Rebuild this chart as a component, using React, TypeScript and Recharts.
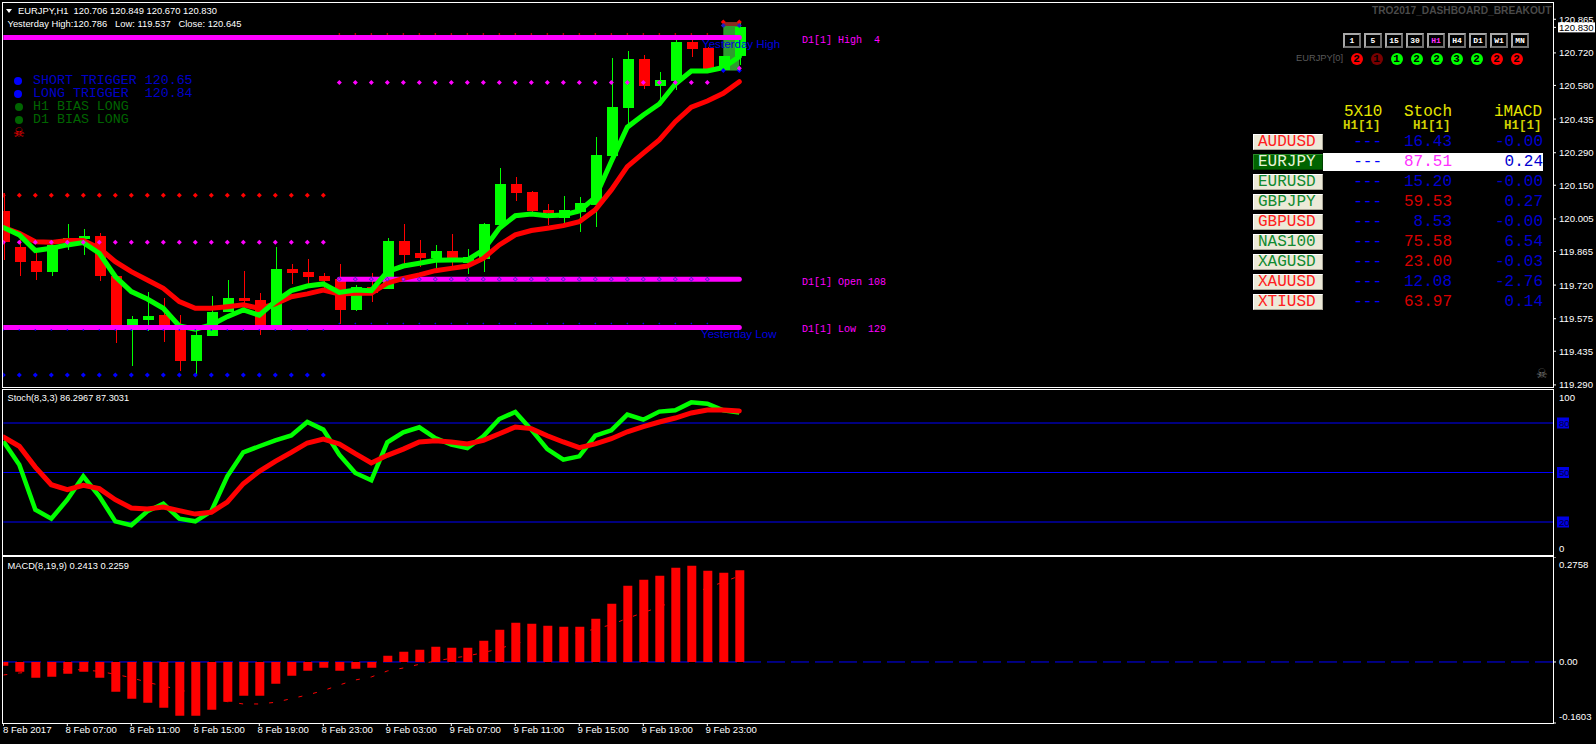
import React from "react";
import {
  ComposedChart,
  Bar,
  Line,
  XAxis,
  YAxis,
  ReferenceLine,
  ReferenceArea,
} from "recharts";

// EURJPY H1 candles
const opens = [120.039,119.884,119.824,119.777,119.914,119.917,119.932,119.759,119.548,119.57,119.591,119.534,119.393,119.501,119.604,119.665,119.656,119.534,119.79,119.777,119.759,119.745,119.613,119.711,119.703,119.91,119.858,119.835,119.867,119.817,119.831,119.979,120.156,120.121,120.044,120.009,120.036,120.065,120.276,120.483,120.694,120.578,120.599,120.767,120.741,120.646,120.706];
const highs = [120.115,119.943,119.864,119.914,119.983,119.962,119.943,119.764,119.587,119.691,119.665,119.591,119.534,119.673,119.742,119.781,119.685,119.886,119.811,119.833,119.771,119.811,119.721,119.771,119.923,119.983,119.914,119.893,119.94,119.876,119.988,120.225,120.186,120.126,120.07,120.104,120.1,120.358,120.698,120.728,120.711,120.638,120.776,120.783,120.744,120.707,120.849];
const lows = [119.828,119.757,119.742,119.759,119.869,119.85,119.739,119.472,119.372,119.524,119.475,119.35,119.337,119.501,119.604,119.613,119.505,119.534,119.725,119.725,119.699,119.553,119.609,119.647,119.703,119.8,119.8,119.792,119.8,119.768,119.777,119.958,120.082,120.029,119.979,119.986,119.949,119.97,120.273,120.414,120.565,120.517,120.56,120.702,120.646,120.644,120.67];
const closes = [119.907,119.82,119.777,119.892,119.923,119.932,119.759,119.534,119.574,119.587,119.527,119.393,119.505,119.604,119.665,119.652,119.534,119.79,119.772,119.755,119.738,119.613,119.712,119.685,119.91,119.85,119.837,119.867,119.838,119.84,119.983,120.156,120.117,120.039,120.031,120.044,120.074,120.281,120.487,120.694,120.578,120.603,120.767,120.737,120.651,120.707,120.83];
const fastEma = [119.968,119.936,119.869,119.879,119.893,119.903,119.857,119.757,119.692,119.66,119.62,119.544,119.53,119.548,119.584,119.613,119.59,119.649,119.696,119.716,119.725,119.688,119.699,119.696,119.778,119.802,119.814,119.827,119.828,119.828,119.871,119.965,120.019,120.026,120.019,120.022,120.039,120.098,120.252,120.4,120.453,120.5,120.586,120.642,120.642,120.657,120.704];
const slowEma = [119.969,119.943,119.907,119.904,119.912,119.912,119.879,119.821,119.778,119.742,119.706,119.649,119.62,119.62,119.627,119.635,119.62,119.639,119.67,119.682,119.699,119.682,119.685,119.685,119.728,119.749,119.764,119.782,119.792,119.802,119.835,119.893,119.936,119.955,119.965,119.976,119.993,120.044,120.13,120.23,120.288,120.345,120.424,120.486,120.513,120.546,120.596];

const stochMain = [68.9,54.7,27.5,22,33.5,47.7,35.6,20.4,18,26.5,31.1,22,20.4,26.5,47.7,62.2,65.9,69.5,72.5,80.6,76,60.8,49.7,45.3,68.3,74.3,77.4,70.9,66.9,64.8,71.9,82.4,86.7,76,64.2,57.8,59.8,72.3,75.6,85.1,82,86.9,87.7,92.5,91.7,87.7,86.3];
const stochSignal = [71.5,65.9,53.3,42.6,39.6,42.2,40.2,33.5,28.5,27.9,29.1,26.9,24.8,25.9,32.1,43.2,50.7,56.8,62.2,67.9,70.3,67.3,61.4,55.8,60.4,64.2,68.5,69.3,68.5,67.3,69.5,73.5,77.6,76.6,72.3,68.5,65.1,67.3,70.5,74.7,77.8,80.6,83,86.1,87.9,87.9,87.3];

const macdHist = [-0.0096,-0.0254,-0.0412,-0.0385,-0.0307,-0.0254,-0.0412,-0.0779,-0.0963,-0.1068,-0.12,-0.141,-0.141,-0.1252,-0.1042,-0.0884,-0.0884,-0.0569,-0.0359,-0.0228,-0.0149,-0.0228,-0.0175,-0.0149,0.0166,0.0271,0.0324,0.0403,0.0377,0.0377,0.056,0.0849,0.1033,0.1007,0.0955,0.0928,0.0928,0.1138,0.1533,0.2005,0.2163,0.2268,0.2478,0.2531,0.2399,0.2347,0.2413];
const macdSignal = [-0.0342,-0.0289,-0.0254,-0.0201,-0.0193,-0.021,-0.0245,-0.0324,-0.0412,-0.0534,-0.0631,-0.0727,-0.0832,-0.0955,-0.1042,-0.1103,-0.1103,-0.106,-0.0963,-0.0867,-0.0753,-0.0604,-0.0473,-0.0394,-0.0236,-0.0158,-0.0061,0.0026,0.0096,0.0158,0.0245,0.035,0.0482,0.0569,0.0657,0.0709,0.0771,0.0867,0.0981,0.1147,0.1296,0.1445,0.1611,0.1795,0.1944,0.2102,0.2259];

const priceTicks = [120.865,120.72,120.58,120.435,120.29,120.15,120.005,119.865,119.72,119.575,119.435,119.29,120.83];
const stochTicks = [100,80,50,20,0];
const macdTicks = [0.2758,0,-0.1603];
const timeTicks = [0,4,8,12,16,20,24,28,32,36,40,44];
const timeLabels = ["8 Feb 2017","8 Feb 07:00","8 Feb 11:00","8 Feb 15:00","8 Feb 19:00","8 Feb 23:00","9 Feb 03:00","9 Feb 07:00","9 Feb 11:00","9 Feb 15:00","9 Feb 19:00","9 Feb 23:00"];

const yesterdayHigh = 120.786;
const yesterdayLow = 119.537;
const todayOpen = 119.745;

const symbols = ["AUDUSD","EURJPY","EURUSD","GBPJPY","GBPUSD","NAS100","XAGUSD","XAUUSD","XTIUSD"];
const symbolColors = ["#ff2020","#e8f4d8","#108a30","#108a30","#ff2020","#108a30","#108a30","#ff2020","#ff2020"];
const stochCells = ["16.43","87.51","15.20","59.53","8.53","75.58","23.00","12.08","63.97"];
const stochCellColors = ["#0000d0","#ff30ff","#0000d0","#d80000","#0000d0","#d80000","#d80000","#0000d0","#d80000"];
const macdCells = ["-0.00","0.24","-0.00","0.27","-0.00","6.54","-0.03","-2.76","0.14"];
const timeframes = ["1","5","15","30","H1","H4","D1","W1","MN"];
const tfCounts = ["2","1","1","2","2","3","2","2","2"];
const tfColors = ["#ff0000","#7a0000","#00ff00","#00ff00","#00ff00","#00ff00","#00ff00","#ff0000","#ff0000"];

const LAST = 96.856; // right edge of the plot in bars
const FONT = "'Liberation Sans', Arial, sans-serif";
const MONO = "'Liberation Mono', 'Courier New', monospace";

const span = (value: number, from: number, to: number) => (i: number) =>
  i >= from && i <= to ? value : null;

const levels = {
  high: span(yesterdayHigh, 0, 46),
  low: span(yesterdayLow, 0, 46),
  open: span(todayOpen, 21, 46),
  redLeft: span(120.107, 0, 20),
  magentaLeft: span(119.904, 0, 20),
  blueLeft: span(119.333, 0, 20),
  blueLeftUnder: span(119.527, 0, 20),
  redRight: span(120.802, 21, 44),
  magentaRight: span(120.593, 21, 44),
  openDots: span(todayOpen, 21, 44),
  blueRight: span(119.554, 21, 44),
  topRed: span(120.853, 45, 46),
  topBlue: span(120.838, 45, 46),
  bottomBlue: span(120.644, 45, 46),
  bottomMagenta: span(120.654, 46, 46),
};

const mainData = opens.map((open, i) => {
  const row: any = {
    idx: i,
    open,
    high: highs[i],
    low: lows[i],
    close: closes[i],
    range: [lows[i], highs[i]],
    fast: fastEma[i],
    slow: slowEma[i],
  };
  Object.entries(levels).forEach(([k, f]) => {
    row["lv_" + k] = f(i);
  });
  return row;
});
const stochData = stochMain.map((main, i) => ({ idx: i, main, signal: stochSignal[i] }));
const macdData = macdHist.map((hist, i) => ({ idx: i, hist, signal: macdSignal[i] }));

const Candle = (props: any) => {
  const { x, y, width, height, payload } = props;
  const { open, close, high, low } = payload;
  const unit = height / (high - low);
  const cx = Math.round(x + width / 2);
  const top = y + (high - Math.max(open, close)) * unit;
  const bodyH = Math.max(Math.abs(open - close) * unit, 1);
  const color = close >= open ? "#00ff00" : "#ff0000";
  return (
    <g shapeRendering="crispEdges">
      <rect x={cx} y={y} width={1} height={height} fill={color} />
      <rect x={cx - 5} y={top} width={11} height={bodyH} fill={color} />
    </g>
  );
};

const levelDot = (color: string, center?: string, r = 2.5) => (props: any) => {
  const { cx, cy, index } = props;
  if (cy == null || cx == null) return <g key={index} />;
  return (
    <g key={index}>
      <path d={`M${cx - r} ${cy}L${cx} ${cy - r}L${cx + r} ${cy}L${cx} ${cy + r}Z`} fill={color} />
      {center ? <rect x={cx - 1} y={cy - 1} width={2} height={2} fill={center} /> : null}
    </g>
  );
};

const PriceTick = ({ x, y, payload }: any) => {
  const v = payload.value;
  if (v === 120.83) {
    return (
      <g>
        <rect x={x - 1} y={y - 5} width={37} height={10} fill="#fff" />
        <text x={x} y={y} fontSize={9.6} fontFamily={FONT} fill="#000" dominantBaseline="central">
          {v.toFixed(3)}
        </text>
      </g>
    );
  }
  return (
    <text x={x} y={y} fontSize={9.6} fontFamily={FONT} fill="#fff" dominantBaseline="central">
      {v.toFixed(3)}
    </text>
  );
};

const StochTick = ({ x, y, payload }: any) => {
  const v = payload.value;
  if (v === 100 || v === 0) {
    return (
      <text x={x} y={y + (v === 100 ? 7 : -7)} fontSize={9.6} fontFamily={FONT} fill="#fff" dominantBaseline="central">
        {v}
      </text>
    );
  }
  return (
    <g>
      <rect x={x - 2} y={y - 5.5} width={12} height={11} fill="#0000e6" />
      <text x={x} y={y} fontSize={9.6} fontFamily={FONT} fill="#000040" dominantBaseline="central">
        {v}
      </text>
    </g>
  );
};

const MacdTick = ({ x, y, payload }: any) => {
  const v = payload.value;
  const dy = v > 0 ? 7.3 : v < 0 ? -6.3 : 0;
  return (
    <text x={x} y={y + dy} fontSize={9.6} fontFamily={FONT} fill="#fff" dominantBaseline="central">
      {v === 0 ? "0.00" : v}
    </text>
  );
};

const TimeTick = ({ x, y, payload, index }: any) => (
  <text
    x={index === 0 ? x - 0.3 : x - 1.7}
    y={y}
    fontSize={9.6}
    fontFamily={FONT}
    fill="#fff"
    dominantBaseline="central"
  >
    {timeLabels[index]}
  </text>
);

const Txt = ({ x, y, color = "#fff", size = 10, font = FONT, right, bold, children }: any) => (
  <div
    style={{
      position: "absolute",
      left: x,
      top: y,
      transform: right ? "translate(-100%,-50%)" : "translateY(-50%)",
      color,
      fontSize: size,
      fontFamily: font,
      fontWeight: bold ? 700 : 400,
      lineHeight: 1,
      whiteSpace: "pre",
    }}
  >
    {children}
  </div>
);

const Frame = ({ top, height }: { top: number; height: number }) => (
  <div
    style={{
      position: "absolute",
      left: 2,
      top,
      width: 1552,
      height,
      boxSizing: "border-box",
      border: "1px solid #fff",
      pointerEvents: "none",
    }}
  />
);

const Bullet = ({ x, y, color, r = 4 }: any) => (
  <div
    style={{
      position: "absolute",
      left: x - r,
      top: y - r,
      width: r * 2,
      height: r * 2,
      borderRadius: "50%",
      background: color,
    }}
  />
);

const Dashboard = () => (
  <>
    <Txt x={1372} y={11} color="#4a4a4a" size={10.2} bold>
      TRO2017_DASHBOARD_BREAKOUT
    </Txt>
    {timeframes.map((tf, i) => (
      <div
        key={tf}
        style={{
          position: "absolute",
          left: 1343 + i * 21,
          top: 33,
          width: 18,
          height: 15,
          boxSizing: "border-box",
          borderStyle: "solid",
          borderWidth: 2,
          borderColor: "#a8a8a8 #707070 #707070 #a8a8a8",
          color: tf === "H1" ? "#ff30ff" : "#fff",
          fontFamily: MONO,
          fontSize: 8,
          fontWeight: 700,
          lineHeight: "11px",
          textAlign: "center",
        }}
      >
        {tf}
      </div>
    ))}
    <Txt x={1296} y={58.5} color="#5a5a5a" size={9.3}>
      EURJPY[0]
    </Txt>
    {tfCounts.map((n, i) => (
      <div
        key={i}
        style={{
          position: "absolute",
          left: 1350.5 + i * 20,
          top: 52.5,
          width: 12,
          height: 12,
          borderRadius: "50%",
          background: tfColors[i],
          color: "#000",
          fontFamily: MONO,
          fontSize: 11,
          fontWeight: 700,
          lineHeight: "12px",
          textAlign: "center",
        }}
      >
        {n}
      </div>
    ))}

    <Txt x={1344} y={112} color="#e6e600" size={16} font={MONO}>5X10</Txt>
    <Txt x={1404} y={112} color="#e6e600" size={16} font={MONO}>Stoch</Txt>
    <Txt x={1494} y={112} color="#e6e600" size={16} font={MONO}>iMACD</Txt>
    <Txt x={1343} y={125.5} color="#d0d000" size={12.5} font={MONO} bold>H1[1]</Txt>
    <Txt x={1413} y={125.5} color="#d0d000" size={12.5} font={MONO} bold>H1[1]</Txt>
    <Txt x={1504} y={125.5} color="#d0d000" size={12.5} font={MONO} bold>H1[1]</Txt>

    <div style={{ position: "absolute", left: 1323, top: 153, width: 220, height: 18, background: "#fff" }} />
    {symbols.map((sym, i) => {
      const y = 141.7 + i * 20;
      return (
        <React.Fragment key={sym}>
          <div
            style={{
              position: "absolute",
              left: 1253,
              top: y - 8,
              width: 70,
              height: 16,
              boxSizing: "border-box",
              background: sym === "EURJPY" ? "#006400" : "#ece9d8",
              borderStyle: "solid",
              borderWidth: 1,
              borderColor: sym === "EURJPY" ? "#2a8a2a #004000 #004000 #2a8a2a" : "#fff #aca899 #aca899 #fff",
            }}
          />
          <Txt x={1258} y={y} color={symbolColors[i]} size={16} font={MONO}>{sym}</Txt>
          <Txt x={1382} y={y} color="#0000ff" size={16} font={MONO} right>---</Txt>
          <Txt x={1452} y={y} color={stochCellColors[i]} size={16} font={MONO} right>{stochCells[i]}</Txt>
          <Txt x={1543} y={y} color="#0000d0" size={16} font={MONO} right>{macdCells[i]}</Txt>
        </React.Fragment>
      );
    })}
  </>
);

const App = () => (
  <div
    style={{
      position: "absolute",
      left: 0,
      top: 0,
      width: 1596,
      height: 744,
      background: "#000",
      overflow: "hidden",
    }}
  >
    <div style={{ position: "absolute", left: 3, top: 3 }}>
      <ComposedChart width={1593} height={392} data={mainData} margin={{ top: 0, right: 0, bottom: 8, left: 0.3 }}>
        <XAxis dataKey="idx" type="number" domain={[0, LAST]} ticks={timeTicks} hide allowDataOverflow />
        <YAxis
          orientation="right"
          width={43}
          domain={[119.281, 120.935]}
          ticks={priceTicks}
          interval={0}
          allowDataOverflow
          axisLine={false}
          tickLine={{ stroke: "#fff" }}
          tickSize={3}
          tickMargin={3}
          tick={<PriceTick />}
        />
        <ReferenceArea x1={45} x2={46} y1={120.644} y2={120.836} fill="#2f9c2f" fillOpacity={1} stroke="none" />
        <ReferenceArea x1={45} x2={46} y1={120.836} y2={120.853} fill="#8b2a20" fillOpacity={1} stroke="none" />
        <Line dataKey="lv_redRight" stroke="none" dot={levelDot("#ff0000", undefined, 1)} isAnimationActive={false} />
        <Line dataKey="lv_blueRight" stroke="none" dot={levelDot("#0000ff", undefined, 1)} isAnimationActive={false} />
        <Line dataKey="lv_blueLeftUnder" stroke="none" dot={levelDot("#0000ff", undefined, 1)} isAnimationActive={false} />
        <Bar dataKey="range" barSize={11} shape={<Candle />} isAnimationActive={false} />
        <Line dataKey="lv_open" stroke="#ff00ff" strokeWidth={5} strokeLinecap="round" dot={false} isAnimationActive={false} />
        <Line dataKey="lv_openDots" stroke="none" dot={levelDot("#4a22c8", "#ff00ff")} isAnimationActive={false} />
        <Line dataKey="slow" stroke="#ff0000" strokeWidth={5} strokeLinecap="round" dot={false} isAnimationActive={false} />
        <Line dataKey="fast" stroke="#00ff00" strokeWidth={5} strokeLinecap="round" dot={false} isAnimationActive={false} />
        <Line dataKey="lv_redLeft" stroke="none" dot={levelDot("#ff0000")} isAnimationActive={false} />
        <Line dataKey="lv_magentaLeft" stroke="none" dot={levelDot("#ff00ff")} isAnimationActive={false} />
        <Line dataKey="lv_blueLeft" stroke="none" dot={levelDot("#0000ff")} isAnimationActive={false} />
        <Line dataKey="lv_magentaRight" stroke="none" dot={levelDot("#ff00ff")} isAnimationActive={false} />
        <Line dataKey="lv_topRed" stroke="none" dot={levelDot("#ff0000")} isAnimationActive={false} />
        <Line dataKey="lv_topBlue" stroke="none" dot={levelDot("#2020c0")} isAnimationActive={false} />
        <Line dataKey="lv_bottomBlue" stroke="none" dot={levelDot("#0000ff")} isAnimationActive={false} />
        <Line dataKey="lv_bottomMagenta" stroke="none" dot={levelDot("#ff00ff")} isAnimationActive={false} />
        <Line dataKey="lv_high" stroke="#ff00ff" strokeWidth={5} strokeLinecap="round" dot={false} isAnimationActive={false} />
        <Line dataKey="lv_low" stroke="#ff00ff" strokeWidth={5} strokeLinecap="round" dot={false} isAnimationActive={false} />
      </ComposedChart>
    </div>

    <div style={{ position: "absolute", left: 3, top: 390 }}>
      <ComposedChart width={1593} height={165} data={stochData} margin={{ top: 0, right: 0, bottom: 0, left: 0.3 }}>
        <XAxis dataKey="idx" type="number" domain={[0, LAST]} ticks={timeTicks} hide allowDataOverflow />
        <YAxis
          orientation="right"
          width={43}
          domain={[0, 100]}
          ticks={stochTicks}
          interval={0}
          allowDataOverflow
          axisLine={false}
          tickLine={false}
          tickSize={3}
          tickMargin={3}
          tick={<StochTick />}
        />
        <ReferenceLine y={80} stroke="#0000ff" />
        <ReferenceLine y={50} stroke="#0000ff" />
        <ReferenceLine y={20} stroke="#0000ff" />
        <Line dataKey="main" stroke="#00ff00" strokeWidth={4.5} dot={false} isAnimationActive={false} />
        <Line dataKey="signal" stroke="#ff0000" strokeWidth={5} strokeLinecap="round" dot={false} isAnimationActive={false} />
      </ComposedChart>
    </div>

    <div style={{ position: "absolute", left: 3, top: 557 }}>
      <ComposedChart width={1593} height={187} data={macdData} margin={{ top: 0, right: 0, bottom: 0, left: 0.3 }}>
        <XAxis
          dataKey="idx"
          type="number"
          domain={[0, LAST]}
          ticks={timeTicks}
          interval={0}
          height={21}
          allowDataOverflow
          axisLine={false}
          tickLine={{ stroke: "#fff" }}
          tickSize={3}
          tickMargin={3}
          tick={<TimeTick />}
        />
        <YAxis
          orientation="right"
          width={43}
          domain={[-0.1603, 0.2758]}
          ticks={macdTicks}
          interval={0}
          allowDataOverflow
          axisLine={false}
          tickLine={{ stroke: "#fff" }}
          tickSize={3}
          tickMargin={3}
          tick={<MacdTick />}
        />
        <ReferenceLine y={0} stroke="#0000ff" strokeDasharray="18 6" />
        <Line dataKey="signal" stroke="#ff0000" strokeWidth={1} strokeDasharray="4 11" dot={false} isAnimationActive={false} />
        <Bar dataKey="hist" barSize={9} fill="#ff0000" isAnimationActive={false} zIndex={500} />
      </ComposedChart>
    </div>

    <Frame top={2} height={386} />
    <Frame top={389} height={167} />
    <Frame top={556} height={168} />

    <div
      style={{
        position: "absolute",
        left: 6,
        top: 9,
        width: 0,
        height: 0,
        borderLeft: "3.5px solid transparent",
        borderRight: "3.5px solid transparent",
        borderTop: "4px solid #fff",
      }}
    />
    <Txt x={18} y={10.7} size={9.4}>{"EURJPY,H1  120.706 120.849 120.670 120.830"}</Txt>
    <Txt x={7.5} y={23.7} size={9.4}>{"Yesterday High:120.786   Low: 119.537   Close: 120.645"}</Txt>
    <Txt x={7.5} y={399} size={9.2}>Stoch(8,3,3) 86.2967 87.3031</Txt>
    <Txt x={7.5} y={566.7} size={9.3}>MACD(8,19,9) 0.2413 0.2259</Txt>

    <Bullet x={17.7} y={81} color="#0000ff" />
    <Bullet x={17.7} y={94} color="#0000ff" />
    <Bullet x={18.7} y={107} color="#006400" />
    <Bullet x={18.7} y={120} color="#006400" />
    <Txt x={33} y={81} color="#0000c8" size={13.3} font={MONO}>SHORT TRIGGER 120.65</Txt>
    <Txt x={33} y={94} color="#0000c8" size={13.3} font={MONO}>LONG TRIGGER  120.84</Txt>
    <Txt x={33} y={107} color="#006400" size={13.3} font={MONO}>H1 BIAS LONG</Txt>
    <Txt x={33} y={120} color="#006400" size={13.3} font={MONO}>D1 BIAS LONG</Txt>
    <Txt x={13} y={132} color="#ff0000" size={13} font="'DejaVu Sans'">☠</Txt>
    <Txt x={1536} y={372.5} color="#777" size={13} font="'DejaVu Sans'">☠</Txt>

    <Txt x={702} y={44} color="#0000e0" size={11.6}>Yesterday High</Txt>
    <Txt x={701} y={334} color="#0000e0" size={11.6}>Yesterday Low</Txt>
    <Txt x={802} y={40.7} color="#ff00ff" size={10} font={MONO}>{"D1[1] High  4"}</Txt>
    <Txt x={802} y={282.7} color="#ff00ff" size={10} font={MONO}>{"D1[1] Open 108"}</Txt>
    <Txt x={802} y={330.3} color="#ff00ff" size={10} font={MONO}>{"D1[1] Low  129"}</Txt>

    <Dashboard />
  </div>
);

export default App;
